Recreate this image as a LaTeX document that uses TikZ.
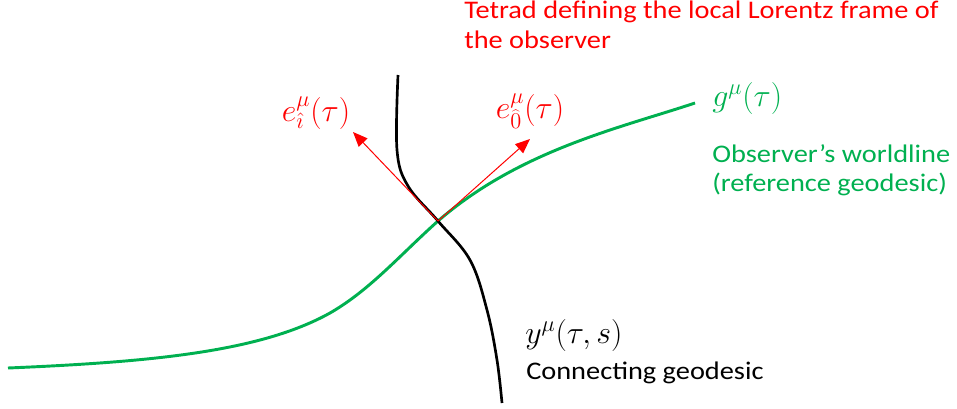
\documentclass[tikz,border=0pt]{standalone}
\usepackage{fontspec}
\setmainfont[FakeStretch=1.12]{Carlito}
\usepackage{fix-cm}
\usetikzlibrary{arrows.meta}
\definecolor{offgreen}{RGB}{0,176,80}
\definecolor{offred}{RGB}{255,0,0}
\begin{document}
\begin{tikzpicture}[x=0.75pt,y=-0.75pt,
  txt/.style={font=\fontsize{19pt}{23pt}\selectfont, inner sep=0pt, anchor=base west},
  mth/.style={font=\fontsize{24pt}{28pt}\selectfont, inner sep=0pt},
  vec/.style={offred, line width=0.75pt, -{Triangle[length=11pt,width=9pt]}}]
\useasboundingbox (0,0) rectangle (957,408);
% green reference geodesic
\draw[offgreen, line width=2.2pt]
  (8,368) .. controls (150,362) and (260,352) .. (330,313)
  .. controls (370,290) and (400,255) .. (438,221)
  .. controls (520,150) and (620,128) .. (695,103);
% black connecting geodesic
\draw[black, line width=2pt] plot[smooth, tension=0.6] coordinates
  {(398,75) (397,150) (408,186) (438,221) (470,260) (487,310) (497,360) (502,403)};
\coordinate (O) at (438,221);
\coordinate (Ei) at (353,132);
\coordinate (E0) at (530,139);
\draw[vec] (O) -- (Ei);
\draw[vec] (O) -- (E0);
% labels
\node[mth, text=offred] (lei) at (316,113) {$e^{\mu}_{\hat{\imath}}(\tau)$};
\node[mth, text=offred] (le0) at (530,111) {$e^{\mu}_{\widehat{0}}(\tau)$};
\node[txt, text=offred] (tetrad1) at (464,18) {Tetrad defining the local Lorentz frame of};
\node[txt, text=offred] (tetrad2) at (464,48) {the observer};
\node[mth, text=offgreen, anchor=base west] (lg) at (712,106) {$g^{\mu}(\tau)$};
\node[txt, text=offgreen] (obs1) at (712,162) {Observer’s worldline};
\node[txt, text=offgreen] (obs2) at (712,191) {(reference geodesic)};
\node[mth, anchor=base west] (ly) at (525,343) {$y^{\mu}(\tau,s)$};
\node[txt] (conn) at (526,379) {Connecting geodesic};
\end{tikzpicture}
\end{document}
